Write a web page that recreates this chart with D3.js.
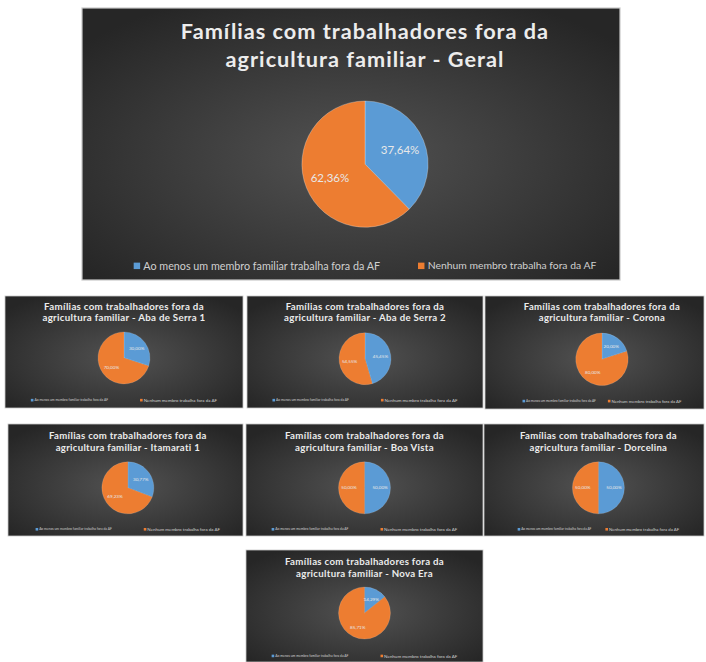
<!DOCTYPE html>
<html>
<head>
<meta charset="utf-8">
<script src="https://cdnjs.cloudflare.com/ajax/libs/d3/7.8.5/d3.min.js"></script>
<style>
  html, body { margin: 0; padding: 0; background: #ffffff; }
  svg { display: block; }
</style>
</head>
<body>
<svg id="chart" width="706" height="662"></svg>
<script>
// ---------------- DATA ----------------
const titleLine1 = "Famílias com trabalhadores fora da";
const titleLine2Prefix = "agricultura familiar - ";
const communities = ["Geral", "Aba de Serra 1", "Aba de Serra 2", "Corona", "Itamarati 1", "Boa Vista", "Dorcelina", "Nova Era"];
const legendLabels = ["Ao menos um membro familiar trabalha fora da AF", "Nenhum membro trabalha fora da AF"];
const pctOutside = [37.64, 30.00, 45.45, 20.00, 30.77, 50.00, 50.00, 14.29];
const pctNone    = [62.36, 70.00, 54.55, 80.00, 69.23, 50.00, 50.00, 85.71];

// ---------------- LAYOUT ----------------
const panels = [
  { x: 82,  y: 8,   w: 538, h: 272, cx: 0.526, cy: 0.574, t1: 0.114, t2: 0.217, ly: 0.948, titleW: 0.69, legW: 0.44, legW2: 0.314, legGap: 38, labFont: 11.5, main: true },
  { x: 5,   y: 296, w: 238, h: 112, cx: 0.50,  cy: 0.553, t1: 0.125, t2: 0.225, ly: 0.930, titleW: 0.65, legW: 0.31, legW2: 0.31, legGap: 32, labFont: 4.6 },
  { x: 247, y: 296, w: 236, h: 112, cx: 0.50,  cy: 0.560, t1: 0.125, t2: 0.225, ly: 0.930, titleW: 0.65, legW: 0.31, legW2: 0.31, legGap: 32, labFont: 4.6 },
  { x: 485, y: 296, w: 219, h: 113, cx: 0.534, cy: 0.560, t1: 0.125, t2: 0.225, ly: 0.930, titleW: 0.69, legW: 0.32, legW2: 0.32, legGap: 12, labFont: 4.6 },
  { x: 8,   y: 424, w: 235, h: 112, cx: 0.51,  cy: 0.570, t1: 0.134, t2: 0.241, ly: 0.940, titleW: 0.65, legW: 0.31, legW2: 0.31, legGap: 32, labFont: 4.6 },
  { x: 246, y: 424, w: 237, h: 112, cx: 0.50,  cy: 0.570, t1: 0.134, t2: 0.241, ly: 0.940, titleW: 0.65, legW: 0.31, legW2: 0.31, legGap: 32, labFont: 4.6 },
  { x: 484, y: 424, w: 220, h: 112, cx: 0.52,  cy: 0.570, t1: 0.134, t2: 0.241, ly: 0.940, titleW: 0.69, legW: 0.32, legW2: 0.32, legGap: 14, labFont: 4.6 },
  { x: 246, y: 550, w: 237, h: 112, cx: 0.50,  cy: 0.563, t1: 0.134, t2: 0.245, ly: 0.946, titleW: 0.65, legW: 0.31, legW2: 0.31, legGap: 32, labFont: 4.6 }
];

const colors = ["#5b9bd5", "#ed7d31"];
const svg = d3.select("#chart");

// background gradient
const defs = svg.append("defs");
const grad = defs.append("radialGradient").attr("id", "bg")
  .attr("cx", "50%").attr("cy", "55%").attr("r", "65%");
grad.append("stop").attr("offset", "0%").attr("stop-color", "#525252");
grad.append("stop").attr("offset", "100%").attr("stop-color", "#262626");

const color = d3.scaleOrdinal().domain([0, 1]).range(colors);
const fmt = v => d3.format(".2f")(v).replace(".", ",") + "%";
const FONT = "Lato, 'Open Sans', sans-serif";

function fitText(sel, targetW, baseSize) {
  sel.style("font-size", baseSize + "px");
  const w = sel.node().getComputedTextLength();
  const size = baseSize * targetW / w;
  sel.style("font-size", size + "px");
  return size;
}

panels.forEach((p, i) => {
  const g = svg.append("g").attr("transform", `translate(${p.x},${p.y})`);
  g.append("rect").attr("width", p.w).attr("height", p.h)
    .attr("fill", "url(#bg)").attr("stroke", "#c8c8c8").attr("stroke-width", p.main ? 1.2 : 0.8);

  const cx = p.cx * p.w, cy = p.cy * p.h, r = 0.232 * p.h;

  // title
  const t1 = g.append("text").attr("x", cx).attr("y", p.t1 * p.h)
    .attr("text-anchor", "middle").attr("fill", "#ececec")
    .style("font-family", FONT).style("font-weight", "bold")
    .style("letter-spacing", p.main ? "1px" : "0.3px")
    .text(titleLine1);
  const fs = fitText(t1, p.titleW * p.w, 20);
  g.append("text").attr("x", cx).attr("y", p.t2 * p.h)
    .attr("text-anchor", "middle").attr("fill", "#ececec")
    .style("font-family", FONT).style("font-weight", "bold")
    .style("letter-spacing", p.main ? "1px" : "0.3px")
    .style("font-size", fs + "px")
    .text(titleLine2Prefix + communities[i]);

  // pie
  const values = [pctOutside[i], pctNone[i]];
  const pie = d3.pie().sort(null)(values);
  const arc = d3.arc().innerRadius(0).outerRadius(r);
  const labelArc = d3.arc().innerRadius(r * 0.6).outerRadius(r * 0.6);
  const pg = g.append("g").attr("transform", `translate(${cx},${cy})`);
  pg.selectAll("path").data(pie).join("path")
    .attr("d", arc).attr("fill", (d, j) => color(j))
    .attr("stroke", "#ffffff").attr("stroke-opacity", 0.35).attr("stroke-width", p.main ? 0.8 : 0.4);
  pg.selectAll("text").data(pie).join("text")
    .attr("transform", d => `translate(${labelArc.centroid(d)})`)
    .attr("text-anchor", "middle").attr("dy", "0.35em")
    .attr("fill", "#e8e8e8")
    .style("font-family", FONT)
    .style("font-size", p.labFont + "px")
    .text(d => fmt(d.data));

  // legend
  const lg = g.append("g");
  const lt0 = lg.append("text").attr("y", p.ly * p.h).attr("dy", "0.35em")
    .attr("fill", "#d0d0d0").style("font-family", FONT)
    .text(legendLabels[0]);
  const lfs = fitText(lt0, p.legW * p.w, 10);
  const lt1 = lg.append("text").attr("y", p.ly * p.h).attr("dy", "0.35em")
    .attr("fill", "#d0d0d0").style("font-family", FONT)
    .text(legendLabels[1]);
  fitText(lt1, p.legW2 * p.w, 10);
  const sq = Math.max(lfs * 0.6, 2.6), pad = lfs * 0.3;
  const w0 = lt0.node().getComputedTextLength(), w1 = lt1.node().getComputedTextLength();
  const total = sq + pad + w0 + p.legGap + sq + pad + w1;
  const x0 = cx - total / 2;
  lg.append("rect").attr("x", x0).attr("y", p.ly * p.h - sq / 2).attr("width", sq).attr("height", sq).attr("fill", colors[0]);
  lt0.attr("x", x0 + sq + pad);
  const x1 = x0 + sq + pad + w0 + p.legGap;
  lg.append("rect").attr("x", x1).attr("y", p.ly * p.h - sq / 2).attr("width", sq).attr("height", sq).attr("fill", colors[1]);
  lt1.attr("x", x1 + sq + pad);
});
</script>
</body>
</html>
